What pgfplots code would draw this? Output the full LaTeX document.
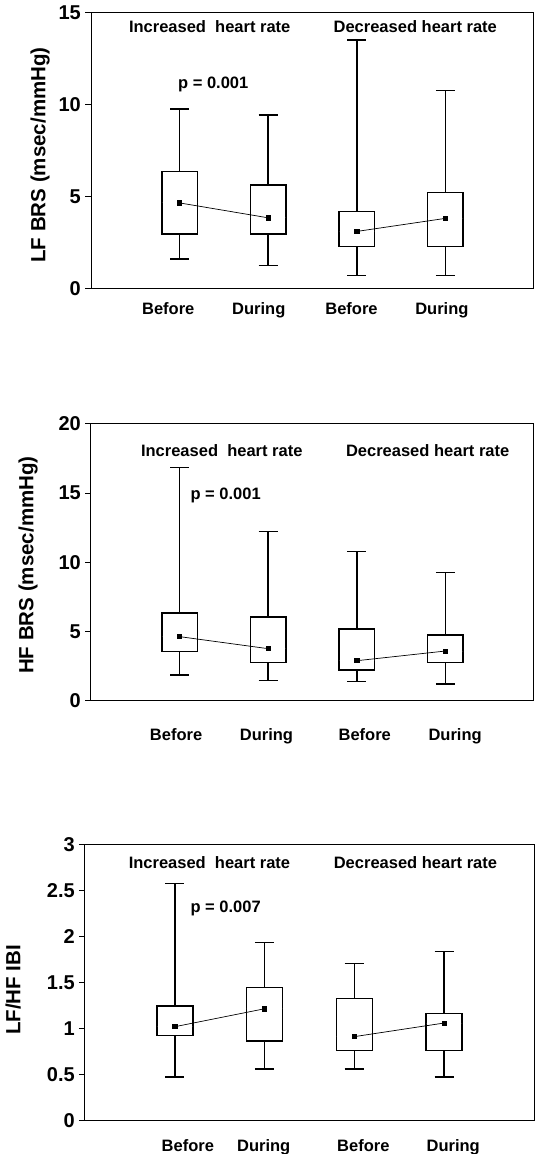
\documentclass[border=0pt]{standalone}
\usepackage{fontspec}
\setmainfont{Liberation Sans}
\usepackage{pgfplots}
\pgfplotsset{compat=1.18}
\usepgfplotslibrary{statistics}
\tikzset{tx/.style={font=\fontsize{16.5}{16.5}\selectfont\bfseries}}
\pgfplotsset{
  myax/.style={
    scale only axis, anchor=south west,
    xmin=0, xmax=5, clip=false,
    axis line style={line width=1pt, black},
    ytick pos=left, tick align=outside, major tick length=6pt,
    ytick style={line width=1pt, black},
    xtick style={draw=none},
    yticklabel style={font=\fontsize{20}{20}\selectfont\bfseries, inner sep=4pt},
    xticklabel style={font=\fontsize{16.5}{16.5}\selectfont\bfseries, anchor=base},
    ylabel style={font=\fontsize{20.5}{20.5}\selectfont\bfseries, anchor=center, rotate=0},
    boxplot/draw direction=y,
    boxplot/box extend=0.4,
    boxplot/whisker extend=0.215,
    boxplot/every median/.style={draw=none},
  },
  bx/.style={black, line width=1.5pt, fill=white, mark=none, solid},
  mn/.style={black, line width=0.7pt, mark=square*, mark size=2.1pt, mark options={solid}},
}
\begin{document}
\begin{tikzpicture}
\useasboundingbox (0,0) rectangle (540pt,1154pt);
% ---------------- Panel 1 ----------------
\begin{axis}[myax, at={(91pt,865.7pt)}, width=443pt, height=276pt,
  ymin=0, ymax=15, ytick={0,5,10,15}, yticklabels={0,5,10,15},
  xtick={0.872,1.894,2.94,3.96}, xticklabels={Before,During,Before,During},
  xticklabel style={yshift=-20.7pt},
  ylabel={LF BRS (msec/mmHg)},
  ylabel style={at={(axis description cs:-0.1147,0.483)}},
]
\addplot[bx, boxplot prepared={draw position=1, lower whisker=1.59, lower quartile=2.95, median=4.64, upper quartile=6.36, upper whisker=9.74}] coordinates {};
\addplot[bx, boxplot prepared={draw position=2, lower whisker=1.23, lower quartile=2.95, median=3.83, upper quartile=5.62, upper whisker=9.43}] coordinates {};
\addplot[bx, boxplot prepared={draw position=3, lower whisker=0.70, lower quartile=2.28, median=3.09, upper quartile=4.17, upper whisker=13.5}] coordinates {};
\addplot[bx, boxplot prepared={draw position=4, lower whisker=0.69, lower quartile=2.28, median=3.80, upper quartile=5.20, upper whisker=10.75}] coordinates {};
\addplot[mn] coordinates {(1,4.64) (2,3.83)};
\addplot[mn] coordinates {(3,3.09) (4,3.80)};
\node[tx] at (axis cs:1.34,14.2) {Increased\ \ heart rate};
\node[tx] at (axis cs:3.66,14.2) {Decreased heart rate};
\node[tx] at (axis cs:1.38,11.06) {p = 0.001};
\end{axis}
% ---------------- Panel 2 ----------------
\begin{axis}[myax, at={(91pt,453.3pt)}, width=443pt, height=276.7pt,
  ymin=0, ymax=20, ytick={0,5,10,15,20}, yticklabels={0,5,10,15,20},
  xtick={0.96,1.98,3.09,4.11}, xticklabels={Before,During,Before,During},
  xticklabel style={yshift=-34pt},
  ylabel={HF BRS (msec/mmHg)},
  ylabel style={at={(axis description cs:-0.1418,0.49)}},
]
\addplot[bx, boxplot prepared={draw position=1, lower whisker=1.86, lower quartile=3.54, median=4.63, upper quartile=6.34, upper whisker=16.87}] coordinates {};
\addplot[bx, boxplot prepared={draw position=2, lower whisker=1.47, lower quartile=2.75, median=3.76, upper quartile=6.05, upper whisker=12.22}] coordinates {};
\addplot[bx, boxplot prepared={draw position=3, lower whisker=1.37, lower quartile=2.22, median=2.89, upper quartile=5.20, upper whisker=10.77}] coordinates {};
\addplot[bx, boxplot prepared={draw position=4, lower whisker=1.20, lower quartile=2.75, median=3.59, upper quartile=4.75, upper whisker=9.28}] coordinates {};
\addplot[mn] coordinates {(1,4.63) (2,3.76)};
\addplot[mn] coordinates {(3,2.89) (4,3.59)};
\node[tx] at (axis cs:1.476,18.07) {Increased\ \ heart rate};
\node[tx] at (axis cs:3.80,18.07) {Decreased heart rate};
\node[tx] at (axis cs:1.52,14.8) {p = 0.001};
\end{axis}
% ---------------- Panel 3 ----------------
\begin{axis}[myax, at={(85pt,33pt)}, width=449pt, height=276pt,
  ymin=0, ymax=3, ytick={0,0.5,1,1.5,2,2.5,3}, yticklabels={0,0.5,1,1.5,2,2.5,3},
  xtick={1.145,1.99,3.10,4.10}, xticklabels={Before,During,Before,During},
  xticklabel style={yshift=-24.7pt},
  ylabel={LF/HF IBI},
  ylabel style={at={(axis description cs:-0.160,0.475)}},
]
\addplot[bx, boxplot prepared={draw position=1, lower whisker=0.478, lower quartile=0.93, median=1.025, upper quartile=1.25, upper whisker=2.58}] coordinates {};
\addplot[bx, boxplot prepared={draw position=2, lower whisker=0.565, lower quartile=0.87, median=1.22, upper quartile=1.45, upper whisker=1.94}] coordinates {};
\addplot[bx, boxplot prepared={draw position=3, lower whisker=0.565, lower quartile=0.765, median=0.917, upper quartile=1.33, upper whisker=1.71}] coordinates {};
\addplot[bx, boxplot prepared={draw position=4, lower whisker=0.478, lower quartile=0.765, median=1.065, upper quartile=1.167, upper whisker=1.84}] coordinates {};
\addplot[mn] coordinates {(1,1.025) (2,1.22)};
\addplot[mn] coordinates {(3,0.917) (4,1.065)};
\node[tx] at (axis cs:1.386,2.81) {Increased\ \ heart rate};
\node[tx] at (axis cs:3.68,2.81) {Decreased heart rate};
\node[tx] at (axis cs:1.566,2.31) {p = 0.007};
\end{axis}
\end{tikzpicture}
\end{document}
